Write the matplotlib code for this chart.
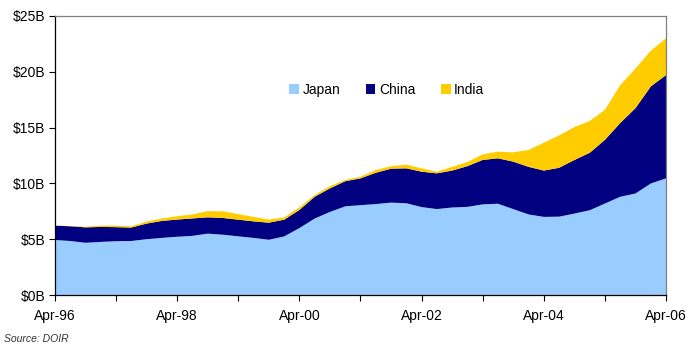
import matplotlib
matplotlib.use("Agg")
import matplotlib.pyplot as plt
import numpy as np
import pandas as pd

plt.rcParams['font.family'] = ['Liberation Sans', 'DejaVu Sans']

# Quarterly observations, Apr-96 to Apr-06
quarters = pd.date_range("1996-04-01", periods=41, freq="3MS")

# Cumulative levels read as stacked totals ($B)
japan = [4.93, 4.84, 4.68, 4.76, 4.82, 4.84, 5.00, 5.12, 5.22, 5.30,
         5.50, 5.40, 5.26, 5.12, 4.95, 5.25, 6.00, 6.85, 7.45, 7.95,
         8.05, 8.15, 8.28, 8.22, 7.88, 7.70, 7.84, 7.90, 8.12, 8.18,
         7.70, 7.22, 7.00, 7.02, 7.30, 7.60, 8.20, 8.80, 9.10, 10.00,
         10.45]
japan_china = [6.21, 6.16, 6.06, 6.10, 6.08, 6.04, 6.40, 6.64, 6.76, 6.86,
               6.96, 6.90, 6.75, 6.60, 6.48, 6.75, 7.62, 8.80, 9.56, 10.20,
               10.45, 10.95, 11.32, 11.35, 11.05, 10.90, 11.15, 11.55, 12.10, 12.25,
               11.95, 11.48, 11.15, 11.40, 12.10, 12.75, 13.90, 15.40, 16.75, 18.70,
               19.70]
total = [6.23, 6.18, 6.12, 6.22, 6.22, 6.16, 6.58, 6.86, 7.06, 7.22,
         7.52, 7.50, 7.25, 7.00, 6.76, 6.95, 7.86, 8.96, 9.76, 10.32,
         10.60, 11.20, 11.55, 11.68, 11.35, 11.05, 11.48, 11.92, 12.60, 12.85,
         12.78, 13.00, 13.65, 14.30, 15.05, 15.60, 16.60, 18.80, 20.30, 21.90,
         23.00]

china = [jc - j for jc, j in zip(japan_china, japan)]
india = [t - jc for t, jc in zip(total, japan_china)]

series_names = ["Japan", "China", "India"]
series_colors = ["#99CCFF", "#000080", "#FFCC00"]

y_ticks = [0, 5, 10, 15, 20, 25]
y_labels = ["$0B", "$5B", "$10B", "$15B", "$20B", "$25B"]
x_label_years = [1996, 1998, 2000, 2002, 2004, 2006]

fig = plt.figure(figsize=(6.9, 3.46), dpi=100)
ax = fig.add_axes([55 / 690, 51 / 346, 611 / 690, 279 / 346])

ax.stackplot(quarters, japan, china, india, colors=series_colors,
             labels=series_names, linewidth=0)

ax.set_xlim(quarters[0], quarters[-1])
ax.set_ylim(0, 25)
ax.set_yticks(y_ticks)
ax.set_yticklabels(y_labels)

year_ticks = [pd.Timestamp(f"{y}-04-01") for y in range(1996, 2007)]
ax.set_xticks(year_ticks)
ax.set_xticklabels([f"Apr-{str(d.year)[2:]}" if d.year in x_label_years else ""
                    for d in year_ticks])

ax.tick_params(axis="both", direction="out", length=4, width=0.8,
               color="black", labelsize=10, labelcolor="black")
ax.tick_params(axis="x", pad=6)
ax.tick_params(axis="y", pad=3)

for side in ("left", "bottom"):
    ax.spines[side].set_color("black")
    ax.spines[side].set_linewidth(0.9)
for side in ("top", "right"):
    ax.spines[side].set_color("#808080")
    ax.spines[side].set_linewidth(0.9)

leg = ax.legend(loc="center", bbox_to_anchor=(0.543, 0.735), ncol=3,
                frameon=False, fontsize=10, handlelength=0.7, handleheight=0.7,
                handletextpad=0.25, columnspacing=1.85, borderaxespad=0)

fig.text(4 / 690, 1 - 339.5 / 346, "Source: DOIR", fontsize=7.5, style="italic",
         color="#333333", ha="left", va="center")

fig.savefig("out.png", dpi=100)
